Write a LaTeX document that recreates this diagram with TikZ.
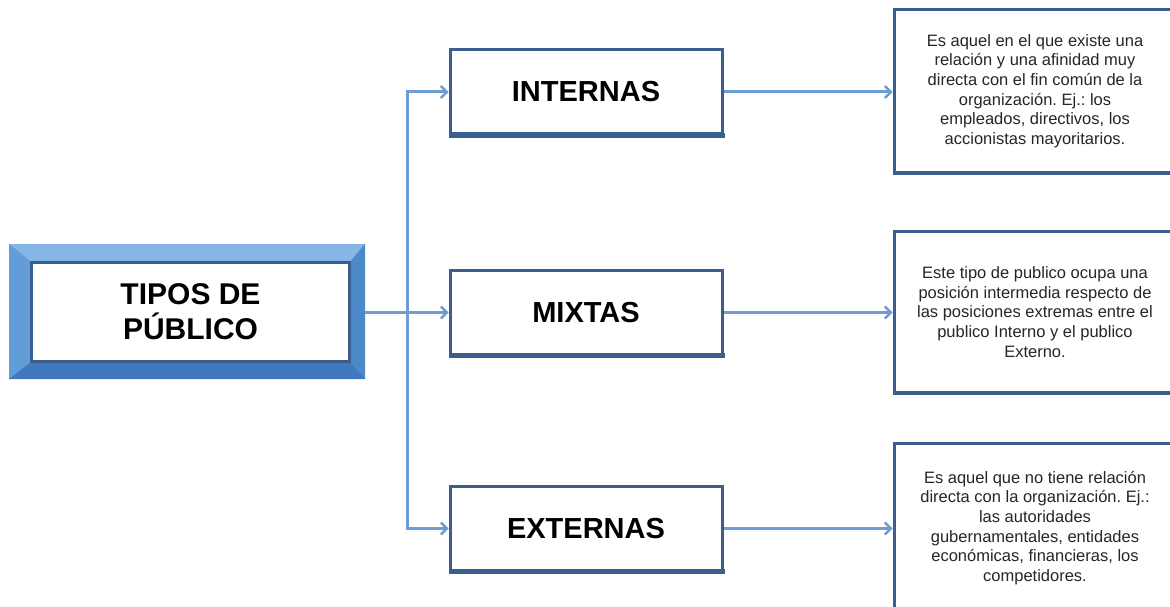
\documentclass[tikz,border=0pt]{standalone}
\usepackage{fontspec}
\setmainfont{Liberation Sans}
\usetikzlibrary{arrows.meta}
\frenchspacing
\definecolor{framedark}{HTML}{3A5F8E}
\definecolor{bevtop}{HTML}{86B6E6}
\definecolor{bevleft}{HTML}{639DD8}
\definecolor{bevright}{HTML}{4D88C9}
\definecolor{bevbot}{HTML}{4079BF}
\definecolor{linkblue}{HTML}{6E9DD3}
\tikzset{
  catbox/.style={draw=framedark, line width=3pt, fill=white, minimum width=272pt,
    minimum height=84pt, inner sep=0pt, font=\fontsize{29}{34}\selectfont\bfseries},
  descbox/.style={draw=framedark, line width=3pt, fill=white, minimum width=282pt,
    inner sep=0pt, align=center, font=\fontsize{16.5}{19.6}\selectfont, text=black!85},
  conn/.style={draw=linkblue, line width=3pt},
  arr/.style={conn, -{Straight Barb[length=6pt,width=12pt,line width=2.4pt]}},
  shadowbar/.style={fill=framedark}
}
\begin{document}
\begin{tikzpicture}[x=1pt,y=-1pt]
\useasboundingbox (0,0) rectangle (1170,607);
\clip (0,0) rectangle (1170,607);

% bevelled frame of the root box
\node[minimum width=356pt, minimum height=135pt, inner sep=0pt, fill=bevright] (rootframe) at (187,311) {};
\fill[bevtop] (9,244) -- (365,244) -- (350,262) -- (31,262) -- cycle;
\fill[bevleft] (9,244) -- (31,262) -- (31,362) -- (9,379) -- cycle;
\fill[bevright] (365,244) -- (350,262) -- (350,362) -- (365,379) -- cycle;
\fill[bevbot] (9,379) -- (31,362) -- (350,362) -- (365,379) -- cycle;
\node[draw=framedark, line width=3pt, fill=white, minimum width=318pt, minimum height=99pt,
  inner sep=0pt, align=center, font=\fontsize{30}{35}\selectfont\bfseries] (root) at (190.5,312)
  {TIPOS DE\\PÚBLICO};

% category boxes (with a heavier bottom edge)
\fill[shadowbar] (449,133) rectangle (725,138);
\node[catbox] (internas) at (586,92) {INTERNAS};
\fill[shadowbar] (449,353) rectangle (725,358);
\node[catbox] (mixtas) at (586,312.5) {MIXTAS};
\fill[shadowbar] (449,569) rectangle (725,574);
\node[catbox] (externas) at (586,528.5) {EXTERNAS};

% description boxes
\fill[shadowbar] (893,170) rectangle (1180,175);
\node[descbox, minimum height=163pt] (d1) at (1035,91)
  {Es aquel en el que existe una\\relación y una afinidad muy\\directa con el fin común de la\\organización. Ej.: los\\empleados, directivos, los\\accionistas mayoritarios.};
\fill[shadowbar] (893,390) rectangle (1180,395);
\node[descbox, minimum height=161pt] (d2) at (1035,312)
  {Este tipo de publico ocupa una\\posición intermedia respecto de\\las posiciones extremas entre el\\publico Interno y el publico\\Externo.};
\node[descbox, minimum height=170pt] (d3) at (1035,528)
  {Es aquel que no tiene relación\\directa con la organización. Ej.:\\las autoridades\\gubernamentales, entidades\\económicas, financieras, los\\competidores.};

% connectors
\coordinate (trunk) at (407,312.5);
\draw[conn] (rootframe.east |- trunk) -- (trunk);
\draw[arr] (trunk) |- (internas.west);
\draw[arr] (trunk) -- (mixtas.west);
\draw[arr] (trunk) |- (externas.west);
\draw[arr] (internas.east) -- (internas.east -| d1.west);
\draw[arr] (mixtas.east) -- (mixtas.east -| d2.west);
\draw[arr] (externas.east) -- (externas.east -| d3.west);
\end{tikzpicture}
\end{document}
